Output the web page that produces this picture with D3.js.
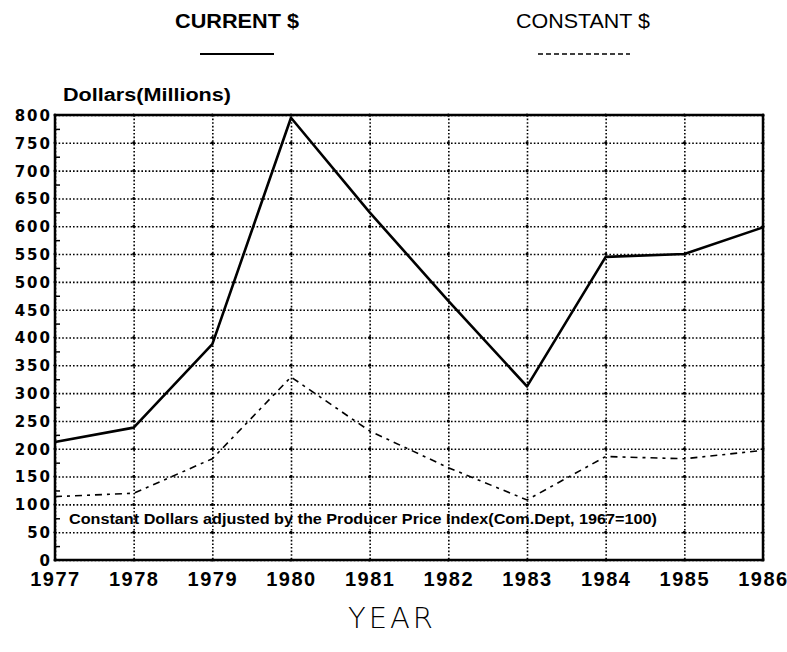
<!DOCTYPE html>
<html>
<head>
<meta charset="utf-8">
<script src="https://cdn.jsdelivr.net/npm/d3@7"></script>
<style>
  body { margin: 0; background: #fff; }
  svg { display: block; }
  .tick-lbl { font-family: "Liberation Sans", Arial, sans-serif; font-weight: bold; fill: #000; }
</style>
</head>
<body>
<svg id="chart" width="787" height="652"></svg>
<script>
// Data
var years = [1977, 1978, 1979, 1980, 1981, 1982, 1983, 1984, 1985, 1986];
var currentDollars = [212, 238, 388, 795, 625, 466, 312, 545, 550, 598];
var constantDollars = [114, 120, 182, 329, 232, 166, 108, 186, 182, 197];
var yTicks = [0, 50, 100, 150, 200, 250, 300, 350, 400, 450, 500, 550, 600, 650, 700, 750, 800];
var seriesNames = ['CURRENT $', 'CONSTANT $'];
var noteText = 'Constant Dollars adjusted by the Producer Price Index(Com.Dept, 1967=100)';

var margin = { top: 115, right: 24, bottom: 92, left: 55 };
var W = 787, H = 652;
var width = W - margin.left - margin.right;
var height = H - margin.top - margin.bottom;

var svg = d3.select('#chart');
var g = svg.append('g')
  .attr('transform', 'translate(' + margin.left + ',' + margin.top + ')');

var x = d3.scaleLinear().domain([years[0], years[years.length - 1]]).range([0, width]);
var y = d3.scaleLinear().domain([0, 800]).range([height, 0]);

// dotted grid
var gridX = g.append('g').call(d3.axisBottom(x).tickValues(years).tickSize(height).tickFormat(''));
gridX.select('.domain').remove();
gridX.selectAll('line')
  .attr('stroke', '#000').attr('stroke-width', 1.6).attr('stroke-dasharray', '1.6,2');

var gridY = g.append('g').call(d3.axisLeft(y).tickValues(yTicks).tickSize(-width).tickFormat(''));
gridY.select('.domain').remove();
gridY.selectAll('line')
  .attr('stroke', '#000').attr('stroke-width', 1.6).attr('stroke-dasharray', '1.6,2');

// heavier dots where grid lines cross
var crossings = [];
years.forEach(function(yr) { yTicks.forEach(function(v) { crossings.push([yr, v]); }); });
g.append('g').selectAll('circle')
  .data(crossings)
  .enter().append('circle')
  .attr('cx', function(d) { return x(d[0]); })
  .attr('cy', function(d) { return y(d[1]); })
  .attr('r', 1.5)
  .attr('fill', '#000');

// minor ticks on left axis
var minor = d3.range(25, 800, 50);
var minorAx = g.append('g').call(d3.axisLeft(y).tickValues(minor).tickSize(-5).tickFormat(''));
minorAx.select('.domain').remove();
minorAx.selectAll('line').attr('stroke', '#000').attr('stroke-width', 1.5);

// frame
g.append('rect')
  .attr('x', 0).attr('y', 0).attr('width', width).attr('height', height)
  .attr('fill', 'none').attr('stroke', '#000').attr('stroke-width', 2.5);

// y labels
var yAx = g.append('g').call(d3.axisLeft(y).tickValues(yTicks).tickSize(0).tickPadding(3));
yAx.select('.domain').remove();
yAx.selectAll('text')
  .style('font-family', '"DejaVu Sans", sans-serif')
  .style('font-weight', 'bold')
  .style('font-size', '15px')
  .style('letter-spacing', '2px')
  .attr('fill', '#000')
  .attr('dy', '0.36em');

// x labels
var xAx = g.append('g').attr('transform', 'translate(0,' + height + ')')
  .call(d3.axisBottom(x).tickValues(years).tickSize(0).tickPadding(12).tickFormat(d3.format('d')));
xAx.select('.domain').remove();
xAx.selectAll('text')
  .attr('class', 'tick-lbl')
  .style('font-size', '20px')
  .style('letter-spacing', '1.5px');

// lines
var line = d3.line()
  .x(function(d, i) { return x(years[i]); })
  .y(function(d) { return y(d); });

g.append('path')
  .datum(currentDollars)
  .attr('d', line)
  .attr('fill', 'none')
  .attr('stroke', '#000')
  .attr('stroke-width', 2.6)
  .attr('stroke-linejoin', 'round');

g.append('path')
  .datum(constantDollars)
  .attr('d', line)
  .attr('fill', 'none')
  .attr('stroke', '#000')
  .attr('stroke-width', 1.6)
  .attr('stroke-dasharray', '7,5,3,5');

// note
g.append('text')
  .attr('x', 14).attr('y', y(50) - 8)
  .attr('class', 'tick-lbl')
  .style('font-size', '14px')
  .attr('textLength', 588)
  .attr('lengthAdjust', 'spacingAndGlyphs')
  .text(noteText);

// y title
svg.append('text')
  .attr('x', 63).attr('y', 101)
  .attr('class', 'tick-lbl')
  .style('font-size', '18px')
  .attr('textLength', 168)
  .attr('lengthAdjust', 'spacingAndGlyphs')
  .text('Dollars(Millions)');

// legend
var legend = [
  { name: seriesNames[0], cx: 237, len: 124, x1: 200, x2: 274, dash: null, w: 2.2, weight: 'bold' },
  { name: seriesNames[1], cx: 583, len: 134, x1: 538, x2: 630, dash: '5,3', w: 1.6, weight: 'normal' }
];
var lg = svg.append('g').selectAll('g').data(legend).enter().append('g');
lg.append('text')
  .attr('x', function(d) { return d.cx; })
  .attr('y', 28)
  .attr('text-anchor', 'middle')
  .attr('textLength', function(d) { return d.len; })
  .attr('lengthAdjust', 'spacingAndGlyphs')
  .style('font-family', '"Liberation Sans", Arial, sans-serif')
  .style('font-size', '20px')
  .style('font-weight', function(d) { return d.weight; })
  .text(function(d) { return d.name; });
lg.append('line')
  .attr('x1', function(d) { return d.x1; })
  .attr('x2', function(d) { return d.x2; })
  .attr('y1', 54).attr('y2', 54)
  .attr('stroke', '#000')
  .attr('stroke-width', function(d) { return d.w; })
  .attr('stroke-dasharray', function(d) { return d.dash; });

// x title
svg.append('text')
  .attr('x', 392).attr('y', 628)
  .attr('text-anchor', 'middle')
  .style('font-family', '"DejaVu Sans", sans-serif')
  .style('font-size', '29px')
  .style('font-weight', '200')
  .style('letter-spacing', '3px')
  .text('YEAR');
</script>
</body>
</html>
